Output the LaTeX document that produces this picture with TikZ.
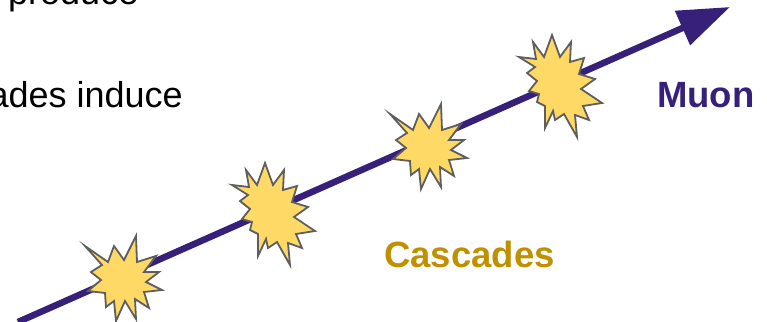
\documentclass[tikz,border=0pt]{standalone}
\usepackage{fontspec}
\setmainfont{Liberation Sans}
\usetikzlibrary{arrows.meta}
\definecolor{muonpurple}{HTML}{37207A}
\definecolor{cascgold}{HTML}{BF9000}
\definecolor{starfill}{HTML}{FFD966}
\definecolor{starline}{HTML}{5E5E5E}
\tikzset{
  muonline/.style={draw=muonpurple, line width=6.5pt, -{Triangle[length=52pt,width=36pt]}, color=muonpurple},
  burst/.style={fill=starfill, draw=starline, line width=1.8pt, line join=miter},
  bodytext/.style={inner sep=0pt, font=\fontsize{36}{40}\selectfont},
  labeltext/.style={inner sep=0pt, font=\fontsize{36.5}{40}\selectfont\bfseries},
}
\newcommand{\burstA}[1]{%
  \draw[burst, shift={(#1)}] (-37,-32) -- (-14,-16) -- (-8,-32) -- (2,-18) -- (14,-42) -- (15,-16)
   -- (34,-22) -- (22,-6) -- (37,-6) -- (24,4) -- (40,12) -- (22,14) -- (27,30) -- (13,21)
   -- (14,41) -- (3,23) -- (-6,43) -- (-8,23) -- (-16,29) -- (-17,15) -- (-34,13) -- (-21,2)
   -- (-31,-6) -- (-20,-13) -- cycle;}
\newcommand{\burstB}[1]{%
  \draw[burst, shift={(#1)}] (-26,-42) -- (-15,-27) -- (-7,-49) -- (1,-27) -- (12,-42) -- (11,-22)
   -- (25,-26) -- (20,-10) -- (36,-5) -- (22,5) -- (43,19) -- (24,22) -- (30,36) -- (16,31)
   -- (18,53) -- (5,30) -- (-4,36) -- (-6,27) -- (-14,44) -- (-14,22) -- (-22,18) -- (-20,10)
   -- (-30,7) -- (-22,-3) -- (-32,-11) -- (-24,-17) -- (-40,-27) -- (-23,-25) -- cycle;}
\begin{document}
\begin{tikzpicture}[x=1pt,y=-1pt]
  \useasboundingbox (0,0) rectangle (767,321);
  \clip (0,0) rectangle (767,321);
  \coordinate (start) at (18,322);
  \coordinate (tip) at (730,7);
  \coordinate (s1) at (122,278);
  \coordinate (s2) at (272,212);
  \coordinate (s3) at (427,146);
  \coordinate (s4) at (559,84);
  \node[bodytext, anchor=base west] (produce) at (8,5) {produce};
  \node[bodytext, anchor=base east] (induce) at (183,107) {ades induce};
  \draw[muonline] (start) -- (tip);
  \burstA{s1}
  \burstB{s2}
  \burstA{s3}
  \burstB{s4}
  \node[labeltext, text=muonpurple, anchor=base west] (muon) at (657,107) {Muon};
  \node[labeltext, text=cascgold, anchor=base west] (cascades) at (384,267) {Cascades};
\end{tikzpicture}
\end{document}
